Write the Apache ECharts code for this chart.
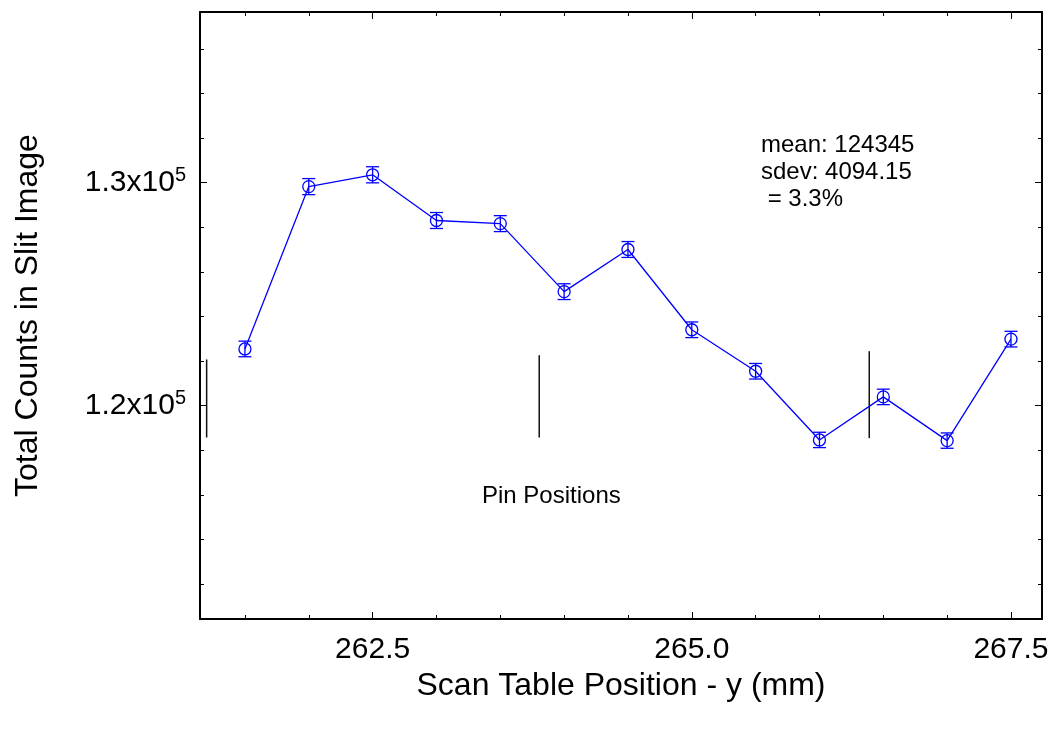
<!DOCTYPE html>
<html>
<head>
<meta charset="utf-8">
<script src="https://cdn.jsdelivr.net/npm/echarts@6/dist/echarts.min.js"></script>
<style>
  html, body { margin: 0; padding: 0; background: #ffffff; }
  #chart { width: 1056px; height: 731px; }
</style>
</head>
<body>
<div id="chart"></div>
<script>
// Scan positions (mm) and total counts measured in the slit image
const positions = [261.5, 262.0, 262.5, 263.0, 263.5, 264.0, 264.5, 265.0, 265.5, 266.0, 266.5, 267.0, 267.5];
const counts = [122540, 129820, 130350, 128300, 128160, 125110, 127000, 123400, 121540, 118460, 120390, 118430, 122980];
const countErrors = [350, 360, 361, 358, 358, 354, 356, 351, 349, 344, 347, 344, 351];

// Pin positions marked as vertical bars (x, lower count, upper count)
const pinX = [261.20, 263.805, 266.39];
const pinLow = [118570, 118570, 118540];
const pinHigh = [122070, 122260, 122440];

// Tick values
const xMajorTicks = [262.5, 265.0, 267.5];
const xMinorTicks = [261.5, 262.0, 262.5, 263.0, 263.5, 264.0, 264.5, 265.0, 265.5, 266.0, 266.5, 267.0, 267.5];
const yMajorTicks = [120000, 130000];
const yMinorTicks = [112000, 114000, 116000, 118000, 120000, 122000, 124000, 126000, 128000, 130000, 132000, 134000, 136000];

const statsLines = ['mean: 124345', 'sdev: 4094.15', ' = 3.3%'];
const pinCaption = 'Pin Positions';

const FONT = '"Liberation Sans", Arial, Helvetica, sans-serif';
const X_MIN = 261.148, X_MAX = 267.743;
const Y_MIN = 110430, Y_MAX = 137650;
const BLUE = '#0000ff';

function xAxis(position, ticks, len, withLine, withLabels) {
  return {
    type: 'value', position: position, min: X_MIN, max: X_MAX,
    axisLine: { show: withLine, onZero: false, lineStyle: { color: '#000', width: 2 } },
    axisTick: { show: true, inside: true, length: len, customValues: ticks, lineStyle: { color: '#000', width: 1 } },
    axisLabel: withLabels ? {
      show: true, customValues: xMajorTicks, margin: 16,
      fontFamily: FONT, fontSize: 30, color: '#000',
      formatter: v => v.toFixed(1)
    } : { show: false },
    splitLine: { show: false },
    name: withLabels ? 'Scan Table Position - y (mm)' : '',
    nameLocation: 'middle', nameGap: 51,
    nameTextStyle: { fontFamily: FONT, fontSize: 32, color: '#000' }
  };
}

function yAxis(position, ticks, len, withLine, withLabels) {
  return {
    type: 'value', position: position, min: Y_MIN, max: Y_MAX,
    axisLine: { show: withLine, onZero: false, lineStyle: { color: '#000', width: 2 } },
    axisTick: { show: true, inside: true, length: len, customValues: ticks, lineStyle: { color: '#000', width: 1 } },
    axisLabel: withLabels ? {
      show: true, customValues: yMajorTicks, margin: 14,
      formatter: v => (v / 100000).toFixed(1) + 'x10{s|5}',
      rich: {
        s: { fontFamily: FONT, fontSize: 20, color: '#000', padding: [0, 0, 15, 0] }
      },
      fontFamily: FONT, fontSize: 30, color: '#000'
    } : { show: false },
    splitLine: { show: false },
    name: withLabels ? 'Total Counts in Slit Image' : '',
    nameLocation: 'middle', nameGap: 156,
    nameTextStyle: { fontFamily: FONT, fontSize: 32, color: '#000' }
  };
}

function renderErrorMarker(params, api) {
  const x = api.value(0), y = api.value(1), e = api.value(2);
  const c = api.coord([x, y]);
  const top = api.coord([x, y + e]);
  const bot = api.coord([x, y - e]);
  const hw = 6.5;
  const st = { stroke: BLUE, lineWidth: 1.3, fill: null };
  return {
    type: 'group',
    children: [
      { type: 'line', shape: { x1: c[0], y1: top[1], x2: c[0], y2: bot[1] }, style: st },
      { type: 'line', shape: { x1: c[0] - hw, y1: top[1], x2: c[0] + hw, y2: top[1] }, style: st },
      { type: 'line', shape: { x1: c[0] - hw, y1: bot[1], x2: c[0] + hw, y2: bot[1] }, style: st },
      { type: 'circle', shape: { cx: c[0], cy: c[1], r: 6 }, style: { stroke: BLUE, lineWidth: 1.3, fill: null } }
    ]
  };
}

function renderPin(params, api) {
  const a = api.coord([api.value(0), api.value(1)]);
  const b = api.coord([api.value(0), api.value(2)]);
  return {
    type: 'line',
    shape: { x1: a[0], y1: a[1], x2: b[0], y2: b[1] },
    style: { stroke: '#111', lineWidth: 1.5 }
  };
}

const chart = echarts.init(document.getElementById('chart'), null, { renderer: 'canvas' });

chart.setOption({
  animation: false,
  backgroundColor: '#ffffff',
  grid: { left: 200, top: 12, right: 14, bottom: 112, containLabel: false },
  xAxis: [
    xAxis('bottom', xMajorTicks, 7, true, true),
    xAxis('bottom', xMinorTicks, 4, false, false),
    xAxis('top', xMajorTicks, 7, true, false),
    xAxis('top', xMinorTicks, 4, false, false)
  ],
  yAxis: [
    yAxis('left', yMajorTicks, 7, true, true),
    yAxis('left', yMinorTicks, 4, false, false),
    yAxis('right', yMajorTicks, 7, true, false),
    yAxis('right', yMinorTicks, 4, false, false)
  ],
  series: [
    {
      type: 'line',
      xAxisIndex: 0, yAxisIndex: 0,
      data: positions.map((p, i) => [p, counts[i]]),
      symbol: 'none',
      lineStyle: { color: BLUE, width: 1.3 },
      z: 2
    },
    {
      type: 'custom',
      xAxisIndex: 0, yAxisIndex: 0,
      data: positions.map((p, i) => [p, counts[i], countErrors[i]]),
      encode: { x: 0, y: 1 },
      renderItem: renderErrorMarker,
      z: 3
    },
    {
      type: 'custom',
      xAxisIndex: 0, yAxisIndex: 0,
      data: pinX.map((p, i) => [p, pinLow[i], pinHigh[i]]),
      encode: { x: 0, y: [1, 2] },
      renderItem: renderPin,
      z: 1
    }
  ],
  graphic: [
    {
      type: 'text', left: 761, top: 132,
      style: {
        text: statsLines.join('\n'),
        font: '24px ' + FONT, fill: '#000', lineHeight: 27
      }
    },
    {
      type: 'text', left: 482, top: 484,
      style: { text: pinCaption, font: '24px ' + FONT, fill: '#000' }
    }
  ]
});
</script>
</body>
</html>
